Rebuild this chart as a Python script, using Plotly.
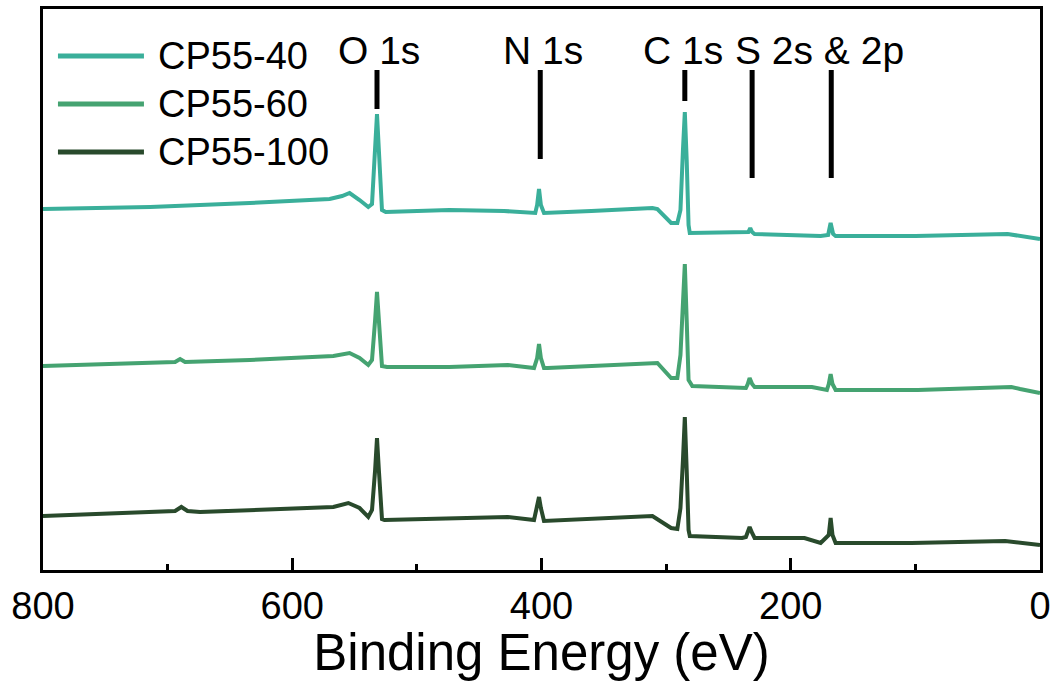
import plotly.graph_objects as go

# ---------------- data ----------------
series_names = ["CP55-40", "CP55-60", "CP55-100"]
series_colors = ["#3AAF9A", "#45A371", "#294A2C"]

be_40 = [800, 714, 634, 570, 560, 554, 546, 539, 536, 533.5, 532, 530.5, 528, 525,
         474, 430, 405, 403.5, 402, 400.5, 398, 360, 311, 307, 296, 291, 288.5,
         286.5, 285, 283.5, 282, 281, 236, 234, 232.5, 231, 229, 176, 170, 168, 166,
         164, 100, 26, 0]
int_40 = [361, 363, 367, 371, 374, 377, 370, 363, 366, 420, 456, 420, 360, 358,
          360, 359, 357, 365, 381, 365, 357, 359, 362, 361, 347, 347, 360,
          420, 458, 410, 345, 337, 337, 338, 342, 338, 336, 334, 335, 347, 336,
          334, 334, 336, 331]

be_60 = [800, 720, 694, 690, 686, 634, 567, 554, 546, 539, 536, 533.5, 532, 530.5, 528,
         524, 474, 427, 406, 403.5, 402, 400.5, 398, 395, 311, 307, 296, 291, 288.5,
         286.5, 285, 283.5, 282, 279, 239, 236, 234.5, 233, 231, 229, 183, 171, 169.5,
         168, 166.5, 164, 98, 30, 23, 16, 0]
int_60 = [204, 207, 208, 211, 208, 210, 214, 217, 212, 205, 210, 250, 278, 250, 204,
          203, 203, 205, 202, 212, 226, 212, 202, 202, 207, 207, 192, 192, 215,
          265, 306, 250, 190, 184, 183, 182, 186, 192, 186, 183, 183, 180, 186,
          196, 186, 180, 180, 182, 183, 181, 177]

be_100 = [800, 706, 694, 689, 684, 674, 567, 555, 546, 539, 536, 533.5, 532, 530.5, 528,
          526, 474, 427, 406, 403.5, 402, 400.5, 398, 311, 296, 291, 288.5, 286.5, 285,
          283.5, 282, 281, 239, 236, 234.5, 233, 231, 229, 189, 176, 169.5, 168, 166.5,
          164, 103, 28, 0]
int_100 = [54, 58, 59, 63, 59, 58, 63, 67, 62, 53, 60, 100, 132, 100, 51,
           50, 52, 53, 50, 62, 73, 62, 49, 54, 42, 41, 62, 110, 153,
           100, 40, 34, 32, 33, 37, 43, 37, 32, 32, 27, 35, 52, 35,
           27, 27, 29, 25]

series_be = [be_40, be_60, be_100]
series_int = [int_40, int_60, int_100]

# peak labels: text, text position (eV), marker line position (eV), line bottom / top (a.u.)
label_texts = ["O 1s", "N 1s", "C 1s", "S 2s & 2p"]
label_x = [530, 399, 286.5, 177]
label_y = [520, 520, 520, 520]
marker_x = [532, 401, 285, 231, 167.5]
marker_bottom = [461, 411, 469, 392, 392]
marker_top = [500, 500, 500, 500, 500]

x_ticks = [800, 600, 400, 200, 0]
x_range = [800, 0]
y_range = [0, 561]

# custom legend placement (data units)
legend_x0, legend_x1, legend_text_x = 788, 719, 709.5
legend_y = [514, 466, 418]

FONT = "Arial, Liberation Sans, sans-serif"

fig = go.Figure()
for name, color, xs, ys in zip(series_names, series_colors, series_be, series_int):
    fig.add_trace(go.Scatter(x=xs, y=ys, mode="lines", name=name,
                             line=dict(color=color, width=4), showlegend=False))

# marker lines above the peaks
for mx, yb, yt in zip(marker_x, marker_bottom, marker_top):
    fig.add_shape(type="line", x0=mx, x1=mx, y0=yb, y1=yt, xref="x", yref="y",
                  line=dict(color="black", width=5))

for t, lx, ly in zip(label_texts, label_x, label_y):
    fig.add_annotation(x=lx, y=ly, text=t, showarrow=False, xref="x", yref="y",
                       font=dict(family=FONT, size=39, color="black"),
                       xanchor="center", yanchor="middle")

# legend drawn from the series list
for name, color, ly in zip(series_names, series_colors, legend_y):
    fig.add_shape(type="line", x0=legend_x0, x1=legend_x1, y0=ly, y1=ly,
                  xref="x", yref="y", line=dict(color=color, width=5))
    fig.add_annotation(x=legend_text_x, y=ly, text=name, showarrow=False,
                       xref="x", yref="y", xanchor="left", yanchor="middle",
                       font=dict(family=FONT, size=38, color="black"))

fig.update_layout(
    width=1055, height=681,
    margin=dict(l=43, r=15, t=9, b=111, autoexpand=False),
    paper_bgcolor="white", plot_bgcolor="white",
    font=dict(family=FONT, color="black"),
    showlegend=False,
)
fig.update_xaxes(
    range=x_range, tickvals=x_ticks, ticktext=[str(v) for v in x_ticks],
    ticks="inside", ticklen=12, tickwidth=2.5, tickcolor="black",
    minor=dict(ticks="inside", ticklen=6, tickwidth=2.5, dtick=100, tickcolor="black", showgrid=False),
    showline=True, linecolor="black", linewidth=3, mirror=True,
    showgrid=False, zeroline=False, automargin=False, ticklabeloverflow="allow",
    tickfont=dict(family=FONT, size=38, color="black"),
    title=dict(text="Binding Energy (eV)", font=dict(family=FONT, size=51, color="black"), standoff=0),
)
fig.update_yaxes(
    range=y_range, showticklabels=False, ticks="",
    showline=True, linecolor="black", linewidth=3, mirror=True,
    showgrid=False, zeroline=False, automargin=False,
)

# remove the default page margin so the figure fills the window exactly
fig.write_html("out.html", config={"displayModeBar": False},
               post_script="document.body.style.margin='0px';")
